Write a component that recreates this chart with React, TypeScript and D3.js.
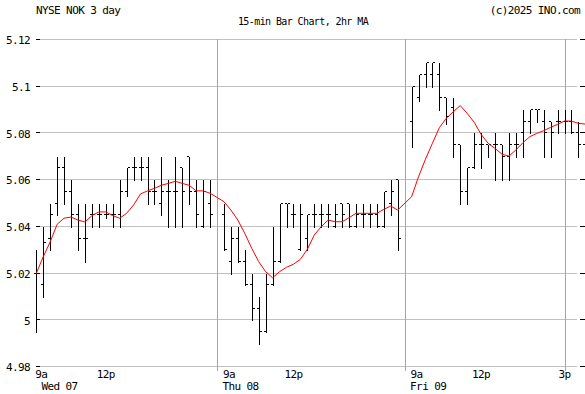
import React from 'react';
import * as d3 from 'd3';

// 15-min bars, [open, high, low, close]
const wedBars: [number, number, number, number][] = [
  [5.02, 5.03, 4.995, 5.02], [5.015, 5.04, 5.01, 5.033], [5.035, 5.05, 5.03, 5.045],
  [5.05, 5.07, 5.045, 5.065], [5.065, 5.07, 5.05, 5.055], [5.055, 5.06, 5.04, 5.045],
  [5.045, 5.05, 5.03, 5.035], [5.035, 5.05, 5.025, 5.035], [5.045, 5.05, 5.04, 5.045],
  [5.045, 5.05, 5.04, 5.045], [5.045, 5.05, 5.044, 5.045], [5.045, 5.05, 5.04, 5.045],
  [5.045, 5.06, 5.04, 5.055], [5.055, 5.065, 5.053, 5.065], [5.065, 5.07, 5.06, 5.065],
  [5.065, 5.07, 5.06, 5.065], [5.065, 5.07, 5.05, 5.055], [5.055, 5.06, 5.05, 5.055],
  [5.05, 5.07, 5.045, 5.055], [5.055, 5.06, 5.04, 5.055], [5.055, 5.07, 5.04, 5.055],
  [5.065, 5.065, 5.04, 5.055], [5.07, 5.07, 5.05, 5.055], [5.055, 5.06, 5.04, 5.045],
  [5.04, 5.06, 5.04, 5.055], [5.05, 5.06, 5.04, 5.045],
];
const thuBars: [number, number, number, number][] = [
  [5.045, 5.05, 5.03, 5.03], [5.025, 5.04, 5.02, 5.035], [5.035, 5.04, 5.025, 5.025],
  [5.025, 5.03, 5.015, 5.015], [5.015, 5.02, 5.0, 5.005], [5.005, 5.01, 4.99, 4.995],
  [4.995, 5.02, 4.995, 5.015], [5.015, 5.04, 5.015, 5.025], [5.025, 5.05, 5.025, 5.05],
  [5.05, 5.05, 5.04, 5.05], [5.045, 5.05, 5.04, 5.045], [5.03, 5.05, 5.03, 5.045],
  [5.035, 5.045, 5.03, 5.045], [5.045, 5.05, 5.04, 5.045], [5.045, 5.05, 5.04, 5.045],
  [5.045, 5.05, 5.04, 5.045], [5.04, 5.05, 5.04, 5.045], [5.05, 5.05, 5.04, 5.045],
  [5.05, 5.05, 5.04, 5.04], [5.04, 5.05, 5.04, 5.045], [5.045, 5.05, 5.04, 5.045],
  [5.045, 5.05, 5.04, 5.045], [5.045, 5.05, 5.04, 5.04], [5.04, 5.055, 5.04, 5.055],
  [5.05, 5.06, 5.045, 5.055], [5.06, 5.06, 5.03, 5.035],
];
const friBars: [number, number, number, number][] = [
  [5.085, 5.1, 5.074, 5.1], [5.095, 5.105, 5.094, 5.105], [5.105, 5.11, 5.1, 5.11],
  [5.105, 5.11, 5.1, 5.11], [5.105, 5.11, 5.09, 5.095], [5.095, 5.095, 5.084, 5.087],
  [5.091, 5.095, 5.07, 5.075], [5.075, 5.075, 5.05, 5.055], [5.055, 5.065, 5.05, 5.065],
  [5.065, 5.08, 5.065, 5.075], [5.075, 5.08, 5.065, 5.075], [5.075, 5.075, 5.07, 5.075],
  [5.075, 5.08, 5.06, 5.075], [5.075, 5.075, 5.06, 5.07], [5.07, 5.08, 5.06, 5.075],
  [5.075, 5.08, 5.07, 5.075], [5.08, 5.09, 5.07, 5.085], [5.085, 5.09, 5.08, 5.09],
  [5.09, 5.09, 5.085, 5.09], [5.085, 5.09, 5.07, 5.08], [5.085, 5.085, 5.07, 5.08],
  [5.085, 5.09, 5.08, 5.085], [5.085, 5.09, 5.08, 5.085], [5.085, 5.09, 5.08, 5.08],
  [5.08, 5.085, 5.07, 5.075], [5.075, 5.08, 5.07, 5.075],
];

// 2hr moving average, one value per bar
const wedMA = [
  5.0201, 5.0272, 5.0336, 5.0411, 5.0437, 5.0442, 5.0429, 5.0421, 5.0448, 5.0464,
  5.0464, 5.0448, 5.0437, 5.0458, 5.0494, 5.0541, 5.0554, 5.0565, 5.0578, 5.0586,
  5.0595, 5.0586, 5.0578, 5.0554, 5.0554, 5.0544,
];
const thuMA = [
  5.0508, 5.0472, 5.0429, 5.0372, 5.0308, 5.0251, 5.0208, 5.0182, 5.0208, 5.0227,
  5.024, 5.0261, 5.0304, 5.0365, 5.0401, 5.0429, 5.0422, 5.0422, 5.0439, 5.0458,
  5.0458, 5.0458, 5.0458, 5.0475, 5.0489, 5.0472,
];
const friMA = [
  5.0529, 5.0615, 5.069, 5.0758, 5.0825, 5.0865, 5.0893, 5.0919, 5.0886, 5.0848,
  5.0796, 5.0758, 5.0736, 5.0711, 5.0703, 5.0729, 5.076, 5.0786, 5.08, 5.0812,
  5.0826, 5.0839, 5.0853, 5.0853, 5.0843, 5.084,
];

const dayStart = [0, 27, 54];
const dayLabels = ['Wed 07', 'Thu 08', 'Fri 09'];
const separators = [26, 53, 76];
const timeTicks: [number, string][] = [[10, '12p'], [37, '12p'], [64, '12p'], [76, '3p']];
const yTicks = [5.12, 5.1, 5.08, 5.06, 5.04, 5.02, 5.0, 4.98];

const W = 585;
const H = 394;
const FONT = '"DejaVu Sans Mono", monospace';

export default function App() {
  const x = d3.scaleLinear().domain([0, 78]).range([36.3, 578.4]);
  const y = d3.scaleLinear().domain([4.98, 5.12]).range([367, 40]);
  const col = (s: number) => Math.round(x(s)) + 0.5;
  const row = (v: number) => Math.round(y(v)) - 0.5;

  const bars: { slot: number; o: number; h: number; l: number; c: number }[] = [];
  const ma: [number, number][] = [];
  [wedBars, thuBars, friBars].forEach((day, d) => {
    day.forEach(([o, h, l, c], i) => bars.push({ slot: dayStart[d] + i, o, h, l, c }));
  });
  [wedMA, thuMA, friMA].forEach((day, d) => {
    day.forEach((v, i) => ma.push([dayStart[d] + i, v]));
  });

  const maLine = d3
    .line<[number, number]>()
    .x((d) => x(d[0]))
    .y((d) => y(d[1]));

  const txt = { fontFamily: FONT, fontSize: 11, letterSpacing: -0.6, fill: '#000' } as const;

  return (
    <svg width={W} height={H} style={{ position: 'absolute', left: 0, top: 0, background: '#fff' }}>
      <rect width={W} height={H} fill="#fff" />
      <text x={36} y={13.5} {...txt}>NYSE NOK 3 day</text>
      <text x={303} y={24.5} textAnchor="middle" {...txt} fontSize={10}>
        15-min Bar Chart, 2hr MA
      </text>
      <text x={580} y={13.5} textAnchor="end" {...txt}>(c)2025 INO.com</text>

      {yTicks.map((v) => (
        <g key={v}>
          <line x1={40} x2={577} y1={row(v)} y2={row(v)} stroke="#c0c0c0" />
          <line x1={36} x2={40} y1={row(v)} y2={row(v)} stroke="#000" />
          <line x1={580} x2={585} y1={row(v)} y2={row(v)} stroke="#000" />
          <text x={30} y={y(v) + 4.3} textAnchor="end" {...txt}>
            {d3.format('~g')(v)}
          </text>
        </g>
      ))}

      {separators.map((s) => (
        <line key={s} x1={col(s)} x2={col(s)} y1={39} y2={371} stroke="#daa520" />
      ))}

      <g stroke="#000" shapeRendering="crispEdges">
        {bars.map((b) => {
          const cx = col(b.slot);
          return (
            <g key={b.slot}>
              <line x1={cx} x2={cx} y1={Math.round(y(b.h))} y2={Math.round(y(b.l)) + 1} />
              <line x1={cx - 2.5} x2={cx - 0.5} y1={row(b.o)} y2={row(b.o)} />
              <line x1={cx + 0.5} x2={cx + 2.5} y1={row(b.c)} y2={row(b.c)} />
            </g>
          );
        })}
      </g>

      <path d={maLine(ma) ?? ''} fill="none" stroke="#ff0000" strokeWidth={1} />

      {dayStart.map((s, i) => (
        <g key={s}>
          <text x={x(s) - 1} y={377.5} {...txt}>9a</text>
          <text x={Math.max(x(s) - 1.5, 41.5)} y={389.5} {...txt}>{dayLabels[i]}</text>
        </g>
      ))}
      {timeTicks.map(([s, label]) => (
        <text key={s} x={x(s)} y={377.5} textAnchor="middle" {...txt}>
          {label}
        </text>
      ))}
    </svg>
  );
}
